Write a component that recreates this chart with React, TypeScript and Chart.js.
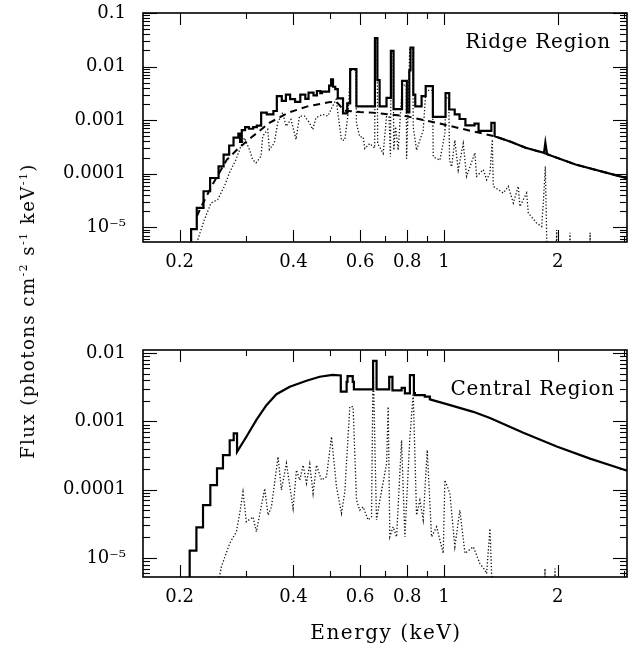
import React, { useEffect, useRef } from "react";
import { Chart, registerables } from "chart.js";

Chart.register(...registerables);

const FONT = "'DejaVu Serif', serif";

// ---------------- axes ----------------
const X_MIN = 0.16;
const X_MAX = 3.05;
const X_TICKS = [0.2, 0.4, 0.6, 0.8, 1, 2];
const X_TICK_LABELS = ["0.2", "0.4", "0.6", "0.8", "1", "2"];
const X_MINOR_TICKS = [0.3, 0.5, 0.7, 0.9, 3];

const TOP_Y_MIN = 5.3e-6;
const TOP_Y_MAX = 0.1;
const TOP_Y_TICKS = [0.1, 0.01, 0.001, 0.0001, 0.00001];
const TOP_Y_LABELS = ["0.1", "0.01", "0.001", "0.0001", "10⁻⁵"];

const BOT_Y_MIN = 5.27e-6;
const BOT_Y_MAX = 0.0111;
const BOT_Y_TICKS = [0.01, 0.001, 0.0001, 0.00001];
const BOT_Y_LABELS = ["0.01", "0.001", "0.0001", "10⁻⁵"];

const BELOW_AXIS = 1e-6;

// ---------------- Ridge region (top) ----------------
// total model, histogram bins (edges in keV, flux per bin)
const TOP_TOTAL_EDGES = [
  0.2145, 0.222, 0.2313, 0.2408, 0.2535, 0.2614, 0.2704, 0.2777, 0.286, 0.289,
  0.292, 0.298, 0.305, 0.313, 0.32, 0.3286, 0.34, 0.354, 0.3615, 0.3726,
  0.382, 0.392, 0.404, 0.417, 0.43, 0.4385, 0.452, 0.4615, 0.471, 0.476,
  0.497, 0.503, 0.509, 0.516, 0.524, 0.541, 0.555, 0.565, 0.587, 0.657,
  0.667, 0.676, 0.705, 0.724, 0.736, 0.775, 0.798, 0.81, 0.816, 0.83,
  0.84, 0.873, 0.895, 0.935, 1.01, 1.033, 1.068, 1.1, 1.14, 1.205,
  1.235, 1.335, 1.362,
];
const TOP_TOTAL_FLUX = [
  9.2e-6, 2.3e-5, 4.7e-5, 8.3e-5, 1.37e-4, 2.27e-4, 3.36e-4, 4.7e-4, 5.6e-4, 3.9e-4,
  6.5e-4, 7.4e-4, 6.9e-4, 7.4e-4, 7.9e-4, 1.38e-3, 1.28e-3, 1.48e-3, 2.8e-3, 2.28e-3,
  3.0e-3, 2.46e-3, 2.2e-3, 3.0e-3, 2.5e-3, 3.26e-3, 2.9e-3, 3.5e-3, 3.2e-3, 3.4e-3,
  4.4e-3, 5.8e-3, 4.2e-3, 3.8e-3, 2.55e-3, 1.34e-3, 2.05e-3, 9.0e-3, 1.8e-3, 0.034,
  5.6e-3, 1.8e-3, 2.6e-3, 0.0196, 1.6e-3, 5.4e-3, 1.4e-3, 8.5e-3, 0.0227, 3.0e-3,
  1.8e-3, 2.8e-3, 4.3e-3, 1.15e-3, 3.2e-3, 1.58e-3, 1.28e-3, 1.05e-3, 8.0e-4, 8.6e-4,
  6.3e-4, 8.9e-4,
];
// total model above 1.36 keV (continuum with weak lines)
const TOP_TAIL_E = [1.362, 1.495, 1.645, 1.84, 1.855, 1.875, 2.23, 2.925, 3.05];
const TOP_TAIL_F = [5.0e-4, 4.0e-4, 3.05e-4, 2.45e-4, 3.8e-4, 2.3e-4, 1.48e-4, 8.9e-5, 8.2e-5];

// continuum (dashed)
const TOP_CONT_E = [
  0.222, 0.231, 0.245, 0.2667, 0.287, 0.311, 0.3455, 0.388, 0.4385, 0.4955,
  0.52, 0.545, 0.6, 0.646, 0.792, 0.97, 1.19, 1.362, 1.495, 1.645,
  1.85, 2.23, 2.925, 3.05,
];
const TOP_CONT_F = [
  1.6e-5, 2.9e-5, 6.5e-5, 1.83e-4, 3.04e-4, 4.87e-4, 8.9e-4, 1.38e-3, 1.83e-3, 2.15e-3,
  2.2e-3, 1.5e-3, 1.42e-3, 1.38e-3, 1.19e-3, 8.7e-4, 6.2e-4, 5.0e-4, 4.0e-4, 3.05e-4,
  2.4e-4, 1.48e-4, 8.9e-5, 8.2e-5,
];

// line component (dotted)
const TOP_LINES_E = [
  0.216, 0.2233, 0.2325, 0.2421, 0.2521, 0.2626, 0.2707, 0.2818, 0.2905, 0.2967,
  0.3059, 0.312, 0.3184, 0.3283, 0.3317, 0.342, 0.3455, 0.356, 0.3634, 0.3747,
  0.3824, 0.394, 0.4064, 0.415, 0.4278, 0.441, 0.4499, 0.459, 0.478, 0.493,
  0.503, 0.5187, 0.5359, 0.5469, 0.558, 0.566, 0.585, 0.5871, 0.5991, 0.6114,
  0.6177, 0.6368, 0.656, 0.658, 0.666, 0.668, 0.691, 0.705, 0.716, 0.722,
  0.725, 0.734, 0.737, 0.745, 0.757, 0.776, 0.795, 0.7966, 0.8046, 0.812,
  0.828, 0.8295, 0.8466, 0.8817, 0.896, 0.933, 0.9371, 0.9759, 1.006, 1.012,
  1.03, 1.035, 1.048, 1.069, 1.091, 1.125, 1.148, 1.208, 1.22, 1.271,
  1.297, 1.324, 1.343, 1.351, 1.436, 1.48, 1.526, 1.573, 1.589, 1.655,
  1.672, 1.76, 1.814, 1.832, 1.855, 1.87, 1.88, 1.98, 1.987, 1.995,
  2.15, 2.155, 2.165, 2.43, 2.436, 2.446, 3.1,
];
const TOP_LINES_F = [
  3e-6, 5.8e-6, 1.38e-5, 2.83e-5, 3.27e-5, 5.8e-5, 1.03e-4, 1.83e-4, 3.26e-4, 4.68e-4,
  2.82e-4, 1.83e-4, 1.59e-4, 2.12e-4, 5.0e-4, 6.7e-4, 2.82e-4, 3.77e-4, 8.9e-4, 1.38e-3,
  7.7e-4, 1.03e-3, 4.35e-4, 1.19e-3, 1.19e-3, 8.9e-4, 6.7e-4, 1.11e-3, 1.28e-3, 1.19e-3,
  1.59e-3, 2.44e-3, 4.23e-4, 4.23e-4, 1.34e-3, 8.5e-3, 8.5e-3, 8.7e-4, 4.88e-4, 4.88e-4,
  2.95e-4, 3.66e-4, 3.0e-4, 0.032, 0.032, 3.66e-4, 2.38e-4, 1.16e-3, 1.16e-3, 2.06e-4,
  0.019, 0.019, 2.74e-4, 7.5e-4, 2.74e-4, 4.5e-3, 4.5e-3, 1.91e-4, 1.78e-3, 0.021,
  0.021, 7.5e-4, 2.74e-4, 6.5e-4, 3.6e-3, 3.6e-3, 2.06e-4, 1.78e-4, 5.6e-4, 2.6e-3,
  2.6e-3, 1.78e-4, 1.34e-4, 4.23e-4, 1.16e-4, 3.66e-4, 8.9e-5, 2.45e-4, 8.9e-5, 1.19e-4,
  7.7e-5, 1.03e-4, 4.35e-4, 5.8e-5, 4.35e-5, 5.8e-5, 2.83e-5, 5.8e-5, 2.44e-5, 4.35e-5,
  1.84e-5, 1.19e-5, 1.03e-5, 2.83e-5, 1.37e-4, 6.7e-6, 2e-6, 2e-6, 8.9e-6, 2e-6,
  2e-6, 7.9e-6, 2e-6, 2e-6, 7.9e-6, 2e-6, 2e-6,
];

// ---------------- Central region (bottom) ----------------
const BOT_STEP_EDGES = [0.2126, 0.2215, 0.2306, 0.2411, 0.2511, 0.2604, 0.2713, 0.278, 0.2837];
const BOT_STEP_FLUX = [1.28e-5, 2.8e-5, 5.96e-5, 1.17e-4, 2.05e-4, 3.21e-4, 5.3e-4, 6.67e-4];
const BOT_RISE_E = [0.2837, 0.3003, 0.3192, 0.3393, 0.3606, 0.3912, 0.433, 0.4694, 0.5075, 0.5337];
const BOT_RISE_F = [3.59e-4, 5.96e-4, 1.05e-3, 1.73e-3, 2.5e-3, 3.21e-3, 3.94e-3, 4.5e-3, 4.8e-3, 4.7e-3];
const BOT_LINE_EDGES = [
  0.5337, 0.553, 0.556, 0.574, 0.578, 0.6497, 0.6636, 0.7167, 0.731, 0.773,
  0.7885, 0.813, 0.833, 0.838, 0.89, 0.918,
];
const BOT_LINE_FLUX = [
  2.72e-3, 3.8e-3, 4.6e-3, 3.8e-3, 2.94e-3, 7.7e-3, 2.94e-3, 4.5e-3, 2.85e-3, 3.1e-3,
  2.57e-3, 4.76e-3, 2.6e-3, 2.43e-3, 2.3e-3,
];
const BOT_TAIL_E = [0.918, 1.017, 1.196, 1.324, 1.622, 1.988, 2.435, 2.985, 3.05];
const BOT_TAIL_F = [2.1e-3, 1.79e-3, 1.38e-3, 1.12e-3, 6.8e-4, 4.3e-4, 2.85e-4, 1.98e-4, 1.9e-4];

const BOT_LINES_E = [
  0.25, 0.2578, 0.2713, 0.2826, 0.2884, 0.2942, 0.3003, 0.3127, 0.3192, 0.3358,
  0.3427, 0.3498, 0.3642, 0.3718, 0.3833, 0.3991, 0.4074, 0.4157, 0.4242, 0.433,
  0.4418, 0.4508, 0.4602, 0.4745, 0.4892, 0.5043, 0.5199, 0.5359, 0.5469, 0.5638,
  0.5752, 0.5873, 0.5991, 0.6114, 0.6303, 0.6435, 0.6498, 0.6633, 0.6771, 0.7054,
  0.7123, 0.7194, 0.7341, 0.7497, 0.7727, 0.7884, 0.812, 0.8295, 0.8466, 0.8639,
  0.8817, 0.9034, 0.9277, 0.9565, 0.9959, 1.006, 1.037, 1.069, 1.102, 1.137,
  1.196, 1.245, 1.284, 1.297, 1.324, 1.337, 1.35, 1.845, 1.851, 1.857,
  1.962, 1.967, 1.972, 3.1,
];
const BOT_LINES_F = [
  3e-6, 7.4e-6, 1.64e-5, 2.42e-5, 4.5e-5, 9.3e-5, 3.39e-5, 4.0e-5, 2.42e-5, 1.04e-4,
  4.25e-5, 5.6e-5, 3.03e-4, 9.9e-5, 2.43e-4, 5.3e-5, 1.94e-4, 1.38e-4, 2.29e-4, 1.24e-4,
  2.37e-4, 8.8e-5, 2.29e-4, 1.38e-4, 1.55e-4, 5.96e-4, 1.1e-4, 4.5e-5, 9.3e-5, 1.64e-3,
  1.64e-3, 7.0e-5, 5.0e-5, 5.6e-5, 3.6e-5, 4.0e-5, 7.5e-3, 3.6e-5, 7.0e-5, 2.43e-4,
  1.64e-3, 2.04e-5, 2.86e-5, 2.04e-5, 5.3e-4, 2.04e-5, 5.3e-4, 2.57e-3, 4.25e-5, 7.0e-5,
  3.6e-5, 3.8e-4, 2.04e-5, 2.86e-5, 1.17e-5, 1.38e-4, 8.8e-5, 1.46e-5, 5.0e-5, 1.17e-5,
  1.46e-5, 8.3e-6, 6.65e-6, 5.9e-6, 2.7e-5, 5.9e-6, 2e-6, 2e-6, 7e-6, 2e-6,
  2e-6, 7e-6, 2e-6, 2e-6,
];

// ---------------- helpers ----------------
type Pt = { x: number; y: number };
function curve(es: number[], fs: number[]): Pt[] {
  return es.map((e, i) => ({ x: e, y: fs[i] }));
}
function hist(edges: number[], vals: number[]): Pt[] {
  const out: Pt[] = [];
  for (let i = 0; i < vals.length; i++) {
    out.push({ x: edges[i], y: vals[i] }, { x: edges[i + 1], y: vals[i] });
  }
  return out;
}

const topTotal: Pt[] = [
  { x: TOP_TOTAL_EDGES[0], y: BELOW_AXIS },
  ...hist(TOP_TOTAL_EDGES, TOP_TOTAL_FLUX),
  ...curve(TOP_TAIL_E, TOP_TAIL_F),
];
const topCont = curve(TOP_CONT_E, TOP_CONT_F);
const topLines = curve(TOP_LINES_E, TOP_LINES_F);

const botTotal: Pt[] = [
  { x: BOT_STEP_EDGES[0], y: BELOW_AXIS },
  ...hist(BOT_STEP_EDGES, BOT_STEP_FLUX),
  ...curve(BOT_RISE_E, BOT_RISE_F),
  ...hist(BOT_LINE_EDGES, BOT_LINE_FLUX),
  ...curve(BOT_TAIL_E, BOT_TAIL_F),
];
const botLines = curve(BOT_LINES_E, BOT_LINES_F);

const solid = (data: Pt[]) => ({
  data,
  borderColor: "#000",
  borderWidth: 2.2,
  pointRadius: 0,
  tension: 0,
  fill: false,
  clip: 0,
  order: 1,
});
const dashed = (data: Pt[]) => ({
  data,
  borderColor: "#000",
  borderWidth: 2,
  borderDash: [7, 5],
  pointRadius: 0,
  tension: 0,
  fill: false,
  clip: 0,
  order: 2,
});
const dotted = (data: Pt[]) => ({
  data,
  borderColor: "#111",
  borderWidth: 1.3,
  borderDash: [1.3, 2],
  pointRadius: 0,
  tension: 0,
  fill: false,
  clip: 0,
  order: 3,
});

// frame with inward ticks + panel label
const framePlugin = {
  id: "frame",
  afterDraw(chart: any, _args: any, opts: any) {
    const { ctx, chartArea } = chart;
    const { left, right, top, bottom } = chartArea;
    const x = chart.scales.x;
    const y = chart.scales.y;
    ctx.save();
    ctx.strokeStyle = "#000";
    ctx.lineWidth = 1.6;
    ctx.strokeRect(left, top, right - left, bottom - top);
    ctx.lineWidth = 1.1;
    const seg = (x1: number, y1: number, x2: number, y2: number) => {
      ctx.beginPath();
      ctx.moveTo(x1, y1);
      ctx.lineTo(x2, y2);
      ctx.stroke();
    };
    const d0 = Math.floor(Math.log10(y.min));
    const d1 = Math.ceil(Math.log10(y.max));
    for (let d = d0; d <= d1; d++) {
      for (let m = 1; m <= 9; m++) {
        const v = m * Math.pow(10, d);
        if (v < y.min || v > y.max) continue;
        const py = Math.round(y.getPixelForValue(v)) + 0.5;
        const len = m === 1 ? 14 : 7;
        seg(left, py, left + len, py);
        seg(right, py, right - len, py);
      }
    }
    const xt = (vals: number[], len: number) => {
      vals.forEach((v) => {
        const px = Math.round(x.getPixelForValue(v)) + 0.5;
        seg(px, bottom, px, bottom - len);
        seg(px, top, px, top + len);
      });
    };
    xt(X_TICKS, 12);
    xt(X_MINOR_TICKS, 6);
    ctx.fillStyle = "#000";
    ctx.font = `20px ${FONT}`;
    (ctx as any).letterSpacing = "0.8px";
    ctx.textAlign = "right";
    ctx.textBaseline = "alphabetic";
    ctx.fillText(opts.label, right - opts.dx, top + opts.dy);
    ctx.restore();
  },
};

type PanelProps = {
  datasets: any[];
  yMin: number;
  yMax: number;
  yTicks: number[];
  yLabels: string[];
  label: string;
  dx: number;
  dy: number;
  padTop: number;
  axisH: number;
};

function Panel(p: PanelProps) {
  const ref = useRef<HTMLCanvasElement>(null);
  useEffect(() => {
    const chart = new Chart(ref.current as HTMLCanvasElement, {
      type: "line",
      data: { datasets: p.datasets },
      plugins: [framePlugin as any],
      options: {
        animation: false,
        responsive: true,
        maintainAspectRatio: false,
        events: [],
        layout: { padding: { top: p.padTop, right: 3, left: 0, bottom: 0 } },
        plugins: {
          legend: { display: false },
          tooltip: { enabled: false },
          frame: { label: p.label, dx: p.dx, dy: p.dy },
        } as any,
        scales: {
          x: {
            type: "logarithmic",
            min: X_MIN,
            max: X_MAX,
            grid: { display: false, drawTicks: false },
            border: { display: false },
            afterBuildTicks: (axis: any) => {
              axis.ticks = X_TICKS.map((v) => ({ value: v }));
            },
            afterFit: (axis: any) => {
              axis.height = p.axisH;
              axis.paddingLeft = 0;
              axis.paddingRight = 0;
              axis.paddingTop = 0;
              axis.paddingBottom = 0;
            },
            ticks: {
              autoSkip: false,
              maxRotation: 0,
              minRotation: 0,
              padding: 10,
              color: "#000",
              font: { family: FONT, size: 18 },
              callback: (v: any) => {
                const i = X_TICKS.findIndex((t) => Math.abs(t - Number(v)) < 1e-9);
                return i >= 0 ? X_TICK_LABELS[i] : "";
              },
            },
          },
          y: {
            type: "logarithmic",
            min: p.yMin,
            max: p.yMax,
            grid: { display: false, drawTicks: false },
            border: { display: false },
            afterBuildTicks: (axis: any) => {
              axis.ticks = p.yTicks.map((v) => ({ value: v }));
            },
            afterFit: (axis: any) => {
              axis.width = 143;
              axis.paddingLeft = 0;
              axis.paddingRight = 0;
              axis.paddingTop = 0;
              axis.paddingBottom = 0;
            },
            ticks: {
              autoSkip: false,
              padding: 17,
              color: "#000",
              font: { family: FONT, size: 18 },
              callback: (v: any) => {
                const i = p.yTicks.findIndex((t) => Math.abs(Math.log10(t) - Math.log10(Number(v))) < 1e-6);
                return i >= 0 ? p.yLabels[i] : "";
              },
            },
          },
        },
      } as any,
    });
    return () => chart.destroy();
  }, []);
  return <canvas ref={ref} style={{ display: "block" }} />;
}

export default function App() {
  return (
    <div
      style={{
        position: "absolute",
        left: 0,
        top: 0,
        width: 630,
        height: 650,
        background: "#fff",
        fontFamily: FONT,
        color: "#000",
      }}
    >
      <div style={{ position: "absolute", left: 0, top: 0, width: 630, height: 300 }}>
        <Panel
          datasets={[solid(topTotal), dashed(topCont), dotted(topLines)]}
          yMin={TOP_Y_MIN}
          yMax={TOP_Y_MAX}
          yTicks={TOP_Y_TICKS}
          yLabels={TOP_Y_LABELS}
          label="Ridge Region"
          dx={16}
          dy={35}
          padTop={13}
          axisH={58}
        />
      </div>
      <div style={{ position: "absolute", left: 0, top: 300, width: 630, height: 350 }}>
        <Panel
          datasets={[solid(botTotal), dotted(botLines)]}
          yMin={BOT_Y_MIN}
          yMax={BOT_Y_MAX}
          yTicks={BOT_Y_TICKS}
          yLabels={BOT_Y_LABELS}
          label="Central Region"
          dx={12}
          dy={45}
          padTop={50}
          axisH={73}
        />
      </div>
      <div
        style={{
          position: "absolute",
          left: 28,
          top: 311,
          transform: "translate(-50%, -50%) rotate(-90deg)",
          whiteSpace: "nowrap",
          fontSize: 18,
          letterSpacing: "1.5px",
          lineHeight: "20px",
        }}
      >
        Flux (photons cm<sup style={{ fontSize: "0.6em", lineHeight: 0 }}>-2</sup> s
        <sup style={{ fontSize: "0.6em", lineHeight: 0 }}>-1</sup> keV
        <sup style={{ fontSize: "0.6em", lineHeight: 0 }}>-1</sup>)
      </div>
      <div
        style={{
          position: "absolute",
          left: 386,
          top: 632,
          transform: "translate(-50%, -50%)",
          whiteSpace: "nowrap",
          fontSize: 20,
          letterSpacing: "1.5px",
          lineHeight: "22px",
        }}
      >
        Energy (keV)
      </div>
    </div>
  );
}
